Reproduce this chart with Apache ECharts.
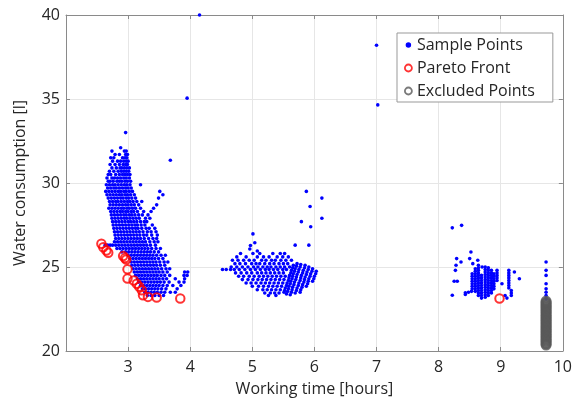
<!DOCTYPE html>
<html lang="en">
<head>
    <meta charset="UTF-8">
    <title>Pareto front</title>
    <script src="https://cdn.jsdelivr.net/npm/echarts@6/dist/echarts.min.js"></script>
    <style>
      html, body { margin: 0; padding: 0; background: #fff; }
      #chart_main { width: 575px; height: 407px; }
    </style>
</head>
<body>
<div id="chart_main"></div>
<script>
  // axis ticks
  var xTicks = [2, 3, 4, 5, 6, 7, 8, 9, 10];
  var yTicks = [20, 25, 30, 35, 40];

  // main cluster around 3 hours, rows: [y, x1, x2, ...]
  var mainRows = [
    [33.0, 2.96],
    [32.1, 2.88],
    [31.9, 2.74, 2.94, 2.97],
    [31.7, 2.79, 2.86, 2.96, 2.99],
    [31.5, 2.72, 2.77, 2.91, 2.95, 2.98],
    [31.3, 2.75, 2.83, 2.88, 2.93, 2.97, 3.00],
    [31.1, 2.71, 2.79, 2.86, 2.92, 2.96, 2.99],
    [30.9, 2.74, 2.81, 2.87, 2.90, 2.94, 2.98, 3.02],
    [30.7, 2.70, 2.77, 2.84, 2.89, 2.93, 2.97, 3.01],
    [30.5, 2.68, 2.72, 2.80, 2.86, 2.91, 2.95, 2.99, 3.03],
    [30.3, 2.66, 2.74, 2.78, 2.83, 2.88, 2.93, 2.97, 3.02],
    [30.1, 2.68, 2.71, 2.76, 2.82, 2.86, 2.90, 2.95, 2.99, 3.04],
    [29.9, 2.65, 2.70, 2.75, 2.79, 2.84, 2.89, 2.94, 2.98, 3.03, 3.20],
    [29.7, 2.67, 2.72, 2.77, 2.81, 2.86, 2.91, 2.96, 3.00, 3.05],
    [29.5, 2.64, 2.69, 2.74, 2.79, 2.84, 2.88, 2.93, 2.97, 3.02, 3.07, 3.51],
    [29.3, 2.66, 2.71, 2.76, 2.81, 2.86, 2.90, 2.95, 2.99, 3.04, 3.10, 3.56],
    [29.1, 2.68, 2.73, 2.78, 2.83, 2.88, 2.92, 2.97, 3.01, 3.06, 3.12, 3.49],
    [28.9, 2.70, 2.75, 2.80, 2.84, 2.89, 2.94, 2.99, 3.03, 3.08, 3.14, 3.22],
    [28.7, 2.71, 2.76, 2.81, 2.86, 2.91, 2.96, 3.00, 3.05, 3.10, 3.17, 3.46],
    [28.5, 2.69, 2.74, 2.79, 2.84, 2.89, 2.93, 2.98, 3.02, 3.07, 3.12, 3.20, 3.41],
    [28.3, 2.72, 2.77, 2.82, 2.87, 2.91, 2.96, 3.00, 3.05, 3.09, 3.15, 3.25, 3.37],
    [28.1, 2.73, 2.78, 2.83, 2.88, 2.93, 2.97, 3.02, 3.06, 3.11, 3.17, 3.23, 3.32],
    [27.9, 2.74, 2.79, 2.84, 2.89, 2.94, 2.98, 3.03, 3.08, 3.13, 3.18, 3.28, 3.35],
    [27.7, 2.75, 2.80, 2.85, 2.90, 2.95, 3.00, 3.04, 3.09, 3.14, 3.20, 3.26, 3.30],
    [27.5, 2.76, 2.81, 2.86, 2.91, 2.96, 3.01, 3.06, 3.11, 3.15, 3.21, 3.27, 3.39],
    [27.3, 2.77, 2.82, 2.87, 2.92, 2.97, 3.02, 3.07, 3.12, 3.16, 3.22, 3.29, 3.34, 3.43],
    [27.1, 2.78, 2.83, 2.88, 2.93, 2.98, 3.03, 3.08, 3.13, 3.18, 3.24, 3.31, 3.37, 3.45],
    [26.9, 2.79, 2.84, 2.89, 2.94, 2.99, 3.04, 3.09, 3.14, 3.19, 3.25, 3.30, 3.38, 3.47],
    [26.7, 2.80, 2.85, 2.90, 2.95, 3.00, 3.05, 3.10, 3.15, 3.20, 3.26, 3.33, 3.40, 3.46],
    [26.5, 2.78, 2.83, 2.88, 2.93, 2.98, 3.03, 3.08, 3.13, 3.18, 3.23, 3.28, 3.35, 3.42, 3.48],
    [26.3, 2.63, 2.67, 2.71, 2.75, 2.80, 2.85, 2.90, 2.95, 3.00, 3.05, 3.10, 3.15, 3.20, 3.25, 3.30, 3.36, 3.44],
    [26.1, 2.82, 2.87, 2.92, 2.97, 3.02, 3.07, 3.12, 3.17, 3.22, 3.27, 3.32, 3.38, 3.45, 3.52],
    [25.9, 2.90, 2.96, 3.01, 3.06, 3.11, 3.16, 3.21, 3.26, 3.31, 3.36, 3.42, 3.49],
    [25.7, 3.00, 3.05, 3.10, 3.15, 3.20, 3.25, 3.30, 3.35, 3.40, 3.46, 3.53, 3.60],
    [25.5, 3.03, 3.08, 3.13, 3.18, 3.23, 3.28, 3.33, 3.38, 3.43, 3.49, 3.56],
    [25.3, 3.05, 3.10, 3.15, 3.20, 3.25, 3.30, 3.35, 3.40, 3.45, 3.51, 3.58, 3.64],
    [25.1, 3.06, 3.11, 3.16, 3.21, 3.26, 3.31, 3.36, 3.41, 3.46, 3.52, 3.59],
    [24.9, 3.08, 3.13, 3.18, 3.23, 3.28, 3.33, 3.38, 3.43, 3.48, 3.54, 3.61, 3.67],
    [24.7, 3.10, 3.15, 3.20, 3.25, 3.30, 3.35, 3.40, 3.45, 3.50, 3.56, 3.63, 3.91, 3.96],
    [24.5, 3.12, 3.17, 3.22, 3.27, 3.32, 3.37, 3.42, 3.47, 3.53, 3.59, 3.67, 3.90, 3.95],
    [24.3, 3.15, 3.20, 3.25, 3.30, 3.35, 3.40, 3.45, 3.50, 3.56, 3.62, 3.76, 3.91],
    [24.1, 3.17, 3.22, 3.27, 3.32, 3.37, 3.42, 3.47, 3.52, 3.58, 3.66, 3.82, 3.90],
    [23.9, 3.20, 3.25, 3.30, 3.35, 3.40, 3.45, 3.50, 3.56, 3.63, 3.72, 3.85],
    [23.7, 3.23, 3.28, 3.33, 3.38, 3.43, 3.48, 3.54, 3.61, 3.79],
    [23.5, 3.27, 3.32, 3.37, 3.42, 3.47, 3.53, 3.59, 3.68, 3.76],
    [23.3, 3.31, 3.37, 3.43, 3.50, 3.57]
  ];

  // middle cluster around 5 hours, rows: [y, x1, x2, ...]
  var midRows = [
    [25.8, 4.81, 5.01, 5.12, 5.33, 5.45, 5.52],
    [25.6, 4.75, 4.90, 5.08, 5.18, 5.27, 5.40, 5.49, 5.58],
    [25.4, 4.68, 4.77, 4.86, 4.95, 5.03, 5.15, 5.22, 5.31, 5.37, 5.46, 5.54, 5.63],
    [25.2, 4.72, 4.80, 4.89, 4.99, 5.06, 5.12, 5.20, 5.28, 5.35, 5.43, 5.50, 5.57],
    [25.0, 4.66, 4.75, 4.84, 4.93, 5.02, 5.09, 5.17, 5.24, 5.30, 5.38, 5.45, 5.52, 5.60],
    [24.85, 4.52, 4.58, 4.65, 4.71, 4.79, 4.88, 4.97, 5.05, 5.13, 5.21, 5.27, 5.34, 5.41, 5.49, 5.55],
    [24.65, 4.73, 4.82, 4.91, 4.99, 5.08, 5.15, 5.22, 5.29, 5.36, 5.43, 5.50],
    [24.45, 4.78, 4.86, 4.95, 5.03, 5.11, 5.18, 5.25, 5.32, 5.39, 5.46, 5.53],
    [24.25, 4.84, 4.93, 5.01, 5.09, 5.16, 5.23, 5.30, 5.37, 5.44, 5.51],
    [24.05, 4.90, 4.98, 5.06, 5.14, 5.21, 5.28, 5.35, 5.42, 5.49],
    [23.85, 5.00, 5.10, 5.18, 5.26, 5.33, 5.40, 5.47],
    [23.65, 5.08, 5.17, 5.24, 5.31, 5.38, 5.45],
    [23.45, 5.20, 5.29, 5.36, 5.43],
    [23.3, 5.26, 5.38]
  ];

  // slanted stripes at the right of the middle cluster, [x, y]
  var midStripes = [
    [5.66, 25.1], [5.65, 24.95], [5.63, 24.8], [5.62, 24.65], [5.60, 24.5], [5.59, 24.35], [5.58, 24.2], [5.56, 24.05], [5.55, 23.9], [5.53, 23.75], [5.52, 23.6], [5.51, 23.5],
    [5.72, 25.2], [5.71, 25.05], [5.69, 24.9], [5.68, 24.75], [5.66, 24.6], [5.65, 24.45], [5.64, 24.3], [5.62, 24.15], [5.61, 24.0], [5.59, 23.85], [5.58, 23.7], [5.57, 23.55], [5.55, 23.4],
    [5.78, 25.15], [5.77, 25.0], [5.75, 24.85], [5.74, 24.7], [5.72, 24.55], [5.71, 24.4], [5.70, 24.25], [5.68, 24.1], [5.67, 23.95], [5.65, 23.8], [5.64, 23.65], [5.63, 23.5], [5.61, 23.35],
    [5.85, 25.1], [5.84, 24.95], [5.82, 24.8], [5.81, 24.65], [5.79, 24.5], [5.78, 24.35], [5.77, 24.2], [5.75, 24.05], [5.74, 23.9], [5.72, 23.75], [5.71, 23.6], [5.69, 23.45],
    [5.91, 25.0], [5.90, 24.85], [5.88, 24.7], [5.87, 24.55], [5.85, 24.4], [5.84, 24.25], [5.83, 24.1], [5.81, 23.95], [5.80, 23.8], [5.78, 23.65], [5.77, 23.5],
    [5.97, 24.9], [5.96, 24.75], [5.94, 24.6], [5.93, 24.45], [5.91, 24.3], [5.90, 24.15], [5.89, 24.0], [5.87, 23.85],
    [6.03, 24.75], [6.02, 24.6], [6.00, 24.45], [5.99, 24.3], [5.97, 24.15]
  ];

  // right cluster columns around 8.5-9 hours: [x, y1, y2, ...]
  var rightCols = [
    [8.54, 24.6, 24.45, 24.3, 24.15, 24.0, 23.85, 23.7],
    [8.59, 24.9, 24.75, 24.6, 24.45, 24.3, 24.15, 24.0, 23.85, 23.7, 23.55],
    [8.64, 25.1, 24.95, 24.8, 24.65, 24.5, 24.35, 24.2, 24.05, 23.9, 23.75, 23.6, 23.45, 23.3],
    [8.69, 24.5, 24.35, 24.2, 24.05, 23.9, 23.75, 23.6, 23.45, 23.3, 23.15],
    [8.75, 25.0, 24.85, 24.7, 24.55, 24.4, 24.25, 24.1, 23.95, 23.8, 23.65, 23.5, 23.35, 23.2],
    [8.80, 24.95, 24.8, 24.65, 24.5, 24.35, 24.2, 24.05, 23.9, 23.75, 23.6, 23.45, 23.3],
    [8.85, 24.8, 24.65, 24.5, 24.35, 24.2, 24.05, 23.9, 23.75, 23.6, 23.45],
    [8.89, 24.6, 24.45, 24.3, 24.15, 24.0, 23.85, 23.7],
    [8.94, 24.8, 24.65, 24.5, 24.35, 24.2],
    [9.13, 24.8, 24.65, 24.5, 24.35, 24.2, 24.05, 23.9, 23.75],
    [9.17, 23.6, 23.45, 23.3],
    [9.73, 25.3, 24.8, 24.5, 24.0, 23.7, 23.5, 23.3, 23.1]
  ];

  // scattered single samples
  var loosePoints = [
    [4.15, 40.0], [3.95, 35.05], [7.0, 38.2], [7.02, 34.65], [3.68, 31.35],
    [5.87, 29.5], [6.12, 29.1], [5.93, 28.6], [6.12, 27.9], [5.79, 27.7], [5.94, 27.4],
    [5.69, 26.3], [5.91, 26.3], [5.01, 26.97], [4.97, 26.28], [5.04, 26.44], [4.96, 26.07], [5.08, 25.95],
    [8.22, 27.33], [8.37, 27.48], [8.52, 25.89], [8.29, 25.5], [8.36, 25.3], [8.28, 25.1], [8.27, 24.8],
    [8.50, 25.5], [8.55, 25.2], [8.63, 25.4], [8.70, 25.0], [8.25, 24.15], [8.30, 24.15], [8.22, 23.32],
    [8.43, 23.46], [8.43, 23.36], [8.48, 23.5], [8.53, 23.55], [9.22, 24.7], [9.30, 24.3], [9.02, 24.0],
    [9.07, 23.3], [9.10, 23.15]
  ];

  // pareto front, [x, y]
  var paretoFront = [
    [2.57, 26.38], [2.60, 26.18], [2.65, 25.98], [2.68, 25.85], [2.92, 25.65], [2.95, 25.53],
    [2.97, 25.45], [2.99, 24.86], [2.99, 24.31], [3.09, 24.2], [3.14, 24.0], [3.18, 23.82],
    [3.22, 23.62], [3.24, 23.32], [3.32, 23.22], [3.46, 23.18], [3.84, 23.12], [8.98, 23.12]
  ];

  // excluded points column
  var excludedX = 9.73;
  var excludedY = [20.35, 20.42, 20.5, 20.58, 20.65, 20.73, 20.8, 20.88, 20.95, 21.03, 21.1, 21.18,
    21.25, 21.33, 21.4, 21.48, 21.55, 21.63, 21.7, 21.78, 21.85, 21.93, 22.0, 22.08, 22.15, 22.23,
    22.3, 22.38, 22.45, 22.53, 22.6, 22.68, 22.75, 22.83, 22.9, 22.97];

  // build sample data
  var samplePoints = [];
  mainRows.concat(midRows).forEach(function(r) {
    for (var i = 1; i < r.length; i++) samplePoints.push([r[i], r[0]]);
  });
  rightCols.forEach(function(c) {
    for (var i = 1; i < c.length; i++) samplePoints.push([c[0], c[i]]);
  });
  samplePoints = samplePoints.concat(midStripes, loosePoints);
  var excludedPoints = excludedY.map(function(y) { return [excludedX, y]; });

  var txt = '#262626';
  var font = 'Open Sans';
  var myChart = echarts.init(document.getElementById('chart_main'));
  var option = {
    animation: false,
    backgroundColor: '#fff',
    textStyle: {fontFamily: font, color: txt},
    grid: {left: 66, right: 12, top: 15, bottom: 56},
    legend: {
      orient: 'vertical',
      left: 397, top: 33,
      padding: [4, 18, 3, 7],
      itemGap: 7,
      itemWidth: 7, itemHeight: 7,
      borderColor: '#999', borderWidth: 1, backgroundColor: '#fff',
      textStyle: {fontFamily: font, fontSize: 16, color: txt},
      data: [
        {name: 'Sample Points', icon: 'circle', itemStyle: {color: '#0000ff', borderColor: '#fff', borderWidth: 1.5}},
        {name: 'Pareto Front', icon: 'circle', itemStyle: {borderWidth: 1.8}},
        {name: 'Excluded Points', icon: 'circle', itemStyle: {borderWidth: 1.8}}
      ]
    },
    xAxis: [{
      type: 'value', min: xTicks[0], max: xTicks[xTicks.length - 1], interval: 1,
      name: 'Working time [hours]', nameLocation: 'middle', nameGap: 30,
      nameTextStyle: {fontFamily: font, fontSize: 16, color: txt},
      axisLine: {lineStyle: {color: '#8a8a8a'}},
      axisTick: {inside: true, length: 4, lineStyle: {color: '#8a8a8a'}},
      axisLabel: {fontFamily: font, fontSize: 16, color: txt, margin: 8,
        formatter: function(v) { return v === xTicks[0] ? '' : v; }},
      splitLine: {lineStyle: {color: '#e6e6e6'}}
    }, {
      type: 'value', position: 'top', min: xTicks[0], max: xTicks[xTicks.length - 1], interval: 1,
      axisLine: {lineStyle: {color: '#8a8a8a'}},
      axisTick: {inside: true, length: 4, lineStyle: {color: '#8a8a8a'}},
      axisLabel: {show: false}, splitLine: {show: false}
    }],
    yAxis: [{
      type: 'value', min: yTicks[0], max: yTicks[yTicks.length - 1], interval: 5,
      name: 'Water consumption [l]', nameLocation: 'middle', nameGap: 38,
      nameTextStyle: {fontFamily: font, fontSize: 16, color: txt},
      axisLine: {show: true, lineStyle: {color: '#8a8a8a'}},
      axisTick: {show: true, inside: true, length: 4, lineStyle: {color: '#8a8a8a'}},
      axisLabel: {fontFamily: font, fontSize: 16, color: txt, margin: 6},
      splitLine: {lineStyle: {color: '#e6e6e6'}}
    }, {
      type: 'value', position: 'right', min: yTicks[0], max: yTicks[yTicks.length - 1], interval: 5,
      axisLine: {show: true, lineStyle: {color: '#8a8a8a'}},
      axisTick: {show: true, inside: true, length: 4, lineStyle: {color: '#8a8a8a'}},
      axisLabel: {show: false}, splitLine: {show: false}
    }],
    series: [{
      name: 'Sample Points', type: 'scatter', symbol: 'circle', symbolSize: 3.6,
      itemStyle: {color: '#0000ff', opacity: 1},
      data: samplePoints
    }, {
      name: 'Pareto Front', type: 'scatter', symbol: 'circle', symbolSize: 8.5,
      itemStyle: {color: 'rgba(255,255,255,0)', borderColor: '#ff0000', borderWidth: 2},
      data: paretoFront
    }, {
      name: 'Excluded Points', type: 'scatter', symbol: 'circle', symbolSize: 8.5,
      itemStyle: {color: 'rgba(255,255,255,0)', borderColor: '#595959', borderWidth: 2.5},
      data: excludedPoints
    }]
  };
  myChart.setOption(option);
</script>
</body>
</html>
